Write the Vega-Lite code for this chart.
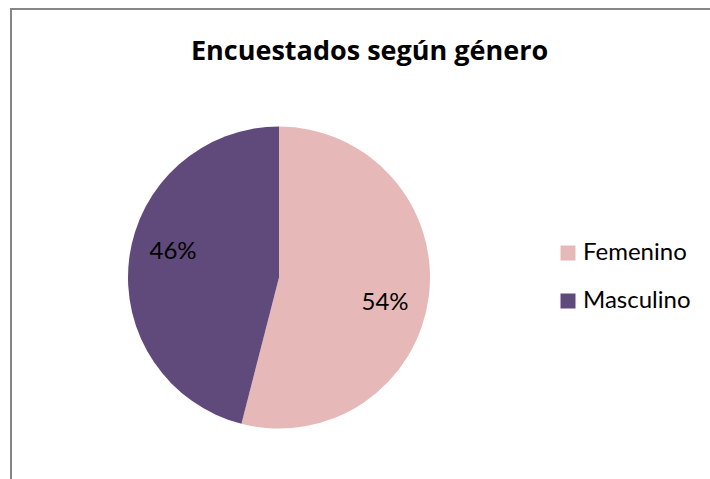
{
  "$schema": "https://vega.github.io/schema/vega-lite/v6.json",
  "width": 760,
  "height": 480,
  "autosize": {"type": "none"},
  "padding": {"left": 11, "top": 9, "right": -61, "bottom": -10},
  "background": "white",
  "view": {"stroke": "#868686", "strokeWidth": 2},
  "title": {
    "text": "Encuestados según género",
    "anchor": "start",
    "frame": "group",
    "font": "Open Sans",
    "fontSize": 27,
    "fontWeight": "bold",
    "color": "black",
    "baseline": "alphabetic",
    "offset": -48,
    "dx": 180,
    "dy": 30
  },
  "data": {
    "values": [
      {"genero": "Femenino", "pct": 54, "label": "54%", "orden": 1},
      {"genero": "Masculino", "pct": 46, "label": "46%", "orden": 2}
    ]
  },
  "encoding": {
    "theta": {"field": "pct", "type": "quantitative", "stack": true},
    "order": {"field": "orden", "type": "quantitative"}
  },
  "layer": [
    {
      "mark": {"type": "arc", "radius": 151, "xOffset": -112, "yOffset": 28.5},
      "encoding": {
        "color": {
          "field": "genero",
          "type": "nominal",
          "scale": {"domain": ["Femenino", "Masculino"], "range": ["#E6B9B8", "#604A7B"]},
          "legend": {
            "orient": "none",
            "legendX": 545,
            "legendY": 232,
            "title": null,
            "padding": 0,
            "symbolType": "square",
            "symbolSize": 225,
            "symbolStrokeWidth": 0,
            "labelFont": "Lato",
            "labelFontSize": 24,
            "labelColor": "black",
            "labelOffset": 3,
            "rowPadding": 24
          }
        }
      }
    },
    {
      "mark": {"type": "text", "radius": 109, "xOffset": -112, "yOffset": 28.5, "font": "Lato", "fontSize": 24, "color": "black", "thetaOffset": 0.11},
      "encoding": {
        "text": {"field": "label", "type": "nominal"}
      }
    }
  ]
}
